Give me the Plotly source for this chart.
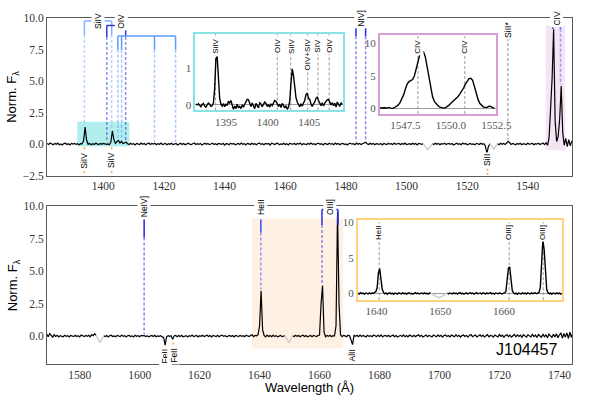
import plotly.graph_objects as go

# ------------------------------------------------------------------ data
object_name = "J104457"

# main panel spectra (regular wavelength grids, flux values)
top_wave_start, top_wave_step = 1381.5, 0.5
top_flux = [
    0.05, -0.03, 0.08, 0.02, -0.06, 0.04, -0.02, 0.07, -0.05, 0.01,
    -0.08, 0.03, 0.06, -0.04, 0.02, -0.07, 0.05, -0.01, 0.04, -0.03,
    0.02, -0.05, 0.03, 0.01, 0.25, 1.35, 0.30, -0.02, 0.04, -0.06,
    0.03, -0.04, 0.06, 0.01, -0.05, 0.04, -0.02, 0.05, 0.02, -0.03,
    0.01, -0.06, 0.15, 1.05, 0.35, 0.05, 0.18, 0.28, 0.08, 0.22,
    0.04, 0.12, 0.15, 0.02, -0.04, 0.06, -0.02, 0.03, -0.07, 0.05,
    0.01, -0.04, 0.07, -0.02, 0.04, -0.06, 0.02, 0.08, -0.03, 0.05,
    -0.01, 0.06, -0.05, 0.03, -0.02, 0.07, -0.04, 0.01, 0.05, -0.06,
    0.03, -0.02, 0.06, -0.05, 0.02, 0.04, -0.08, 0.01, 0.06, -0.03,
    0.04, -0.06, 0.02, 0.07, -0.01, -0.05, 0.03, 0.08, -0.04, 0.02,
    -0.03, 0.05, -0.07, 0.01, 0.06, -0.02, 0.04, -0.05, 0.03, 0.07,
    -0.04, 0.02, -0.06, 0.05, 0.01, -0.03, 0.06, -0.08, 0.03, 0.02,
    -0.05, 0.07, -0.01, 0.04, -0.06, 0.02, 0.05, -0.03, 0.08, -0.02,
    0.03, -0.07, 0.05, 0.01, -0.04, 0.06, -0.02, 0.03, -0.05, 0.04,
    0.07, -0.03, 0.02, -0.06, 0.05, -0.01, 0.04, -0.08, 0.06, 0.02,
    -0.04, 0.03, 0.07, -0.05, 0.01, -0.02, 0.06, -0.04, 0.03, -0.07,
    0.05, 0.02, -0.03, 0.06, -0.05, 0.04, -0.01, 0.07, -0.06, 0.03,
    0.01, -0.04, 0.05, -0.02, 0.08, -0.03, 0.02, -0.06, 0.04, 0.06,
    -0.02, 0.03, -0.07, 0.05, 0.01, -0.04, 0.06, -0.01, 0.03, -0.05,
    0.07, -0.02, 0.04, -0.06, 0.02, 0.05, -0.03, 0.01, -0.07, 0.04,
    0.06, -0.01, 0.03, -0.05, 0.08, -0.02, 0.04, -0.04, 0.02, 0.07,
    0.14, 0.03, -0.04, 0.06, -0.02, 0.05, -0.06, 0.03, 0.01, -0.03,
    0.05, -0.07, 0.04, 0.02, -0.05, 0.06, -0.01, 0.03, -0.04, 0.07,
    -0.03, 0.02, 0.05, -0.06, 0.04, -0.02, 0.07, -0.05, 0.01, 0.03,
    -0.04, 0.06, -0.02, 0.04, -0.07, 0.05, 0.02, -0.03, 0.01, None,
    None, None, None, None, 0.02, -0.04, 0.06, -0.02, 0.05, -0.06,
    0.03, -0.01, 0.07, -0.04, 0.02, 0.05, -0.03, 0.04, -0.07, 0.01,
    0.06, -0.02, 0.03, -0.05, 0.08, -0.01, 0.04, -0.06, 0.02, 0.05,
    -0.03, 0.01, -0.06, 0.04, 0.02, -0.04, 0.06, -0.02, 0.03, -0.15,
    -0.75, -0.20, 0.02, None, None, None, None, 0.03, -0.05, 0.06,
    -0.02, 0.04, -0.03, 0.08, 0.22, 0.10, -0.04, 0.05, 0.02, -0.06,
    0.04, -0.02, 0.06, -0.05, 0.03, 0.01, -0.04, 0.07, -0.03, 0.02,
    0.05, -0.06, 0.03, -0.01, 0.06, -0.04, 0.02, 0.08, -0.05, 0.10,
    -0.10, 0.50, 2.80, 5.20, 9.10, 1.80, 0.20, 0.60, 2.00, 4.60,
    0.90, -0.10, 0.45, -0.20, 0.35, -0.15, 0.25,
]
top_masked_wave = [[1505.5, 1507.0, 1508.5], [1527.5, 1528.75, 1530.0]]
top_masked_flux = [[0.01, -0.45, 0.02], [0.02, -0.40, 0.03]]

bottom_wave_start, bottom_wave_step = 1569.0, 0.5
bottom_flux = [
    0.15, -0.05, 0.20, 0.02, -0.08, 0.10, -0.03, 0.06, -0.06, 0.04,
    0.02, -0.05, 0.07, -0.02, 0.04, -0.07, 0.05, 0.01, -0.04, 0.06,
    -0.03, 0.03, -0.06, 0.08, 0.02, -0.04, 0.05, -0.02, 0.07, -0.05,
    0.12, 0.03, 0.18, 0.05, None, None, None, None, 0.02, -0.04,
    0.05, -0.06, 0.03, 0.07, -0.03, 0.02, -0.05, 0.06, 0.01, -0.04,
    0.08, -0.02, 0.04, -0.07, 0.03, 0.05, -0.03, 0.02, -0.06, 0.07,
    -0.01, 0.04, -0.05, 0.06, 0.02, 0.05, -0.04, 0.03, -0.06, 0.02,
    0.05, -0.03, 0.07, -0.05, 0.01, -0.02, 0.04, -0.06, -0.10, -0.70,
    -0.05, 0.04, -0.02, 0.03, -0.25, 0.02, 0.06, -0.04, 0.05, -0.03,
    0.07, -0.05, 0.02, 0.04, -0.06, 0.03, -0.02, 0.08, -0.04, 0.01,
    0.05, -0.07, 0.03, -0.01, 0.06, -0.04, 0.02, 0.07, -0.03, 0.04,
    -0.06, 0.05, 0.01, -0.03, 0.06, -0.05, 0.03, 0.08, -0.02, 0.04,
    -0.05, 0.02, 0.06, -0.03, 0.04, -0.07, 0.05, 0.01, -0.04, 0.06,
    -0.02, 0.04, -0.05, 0.07, 0.02, -0.03, 0.05, 0.10, -0.04, 0.06,
    0.02, 0.12, 0.80, 3.50, 0.50, 0.05, -0.06, 0.08, -0.03, 0.05,
    -0.05, 0.07, -0.02, 0.04, -0.06, 0.03, 0.06, -0.04, 0.02, 0.03,
    None, None, None, None, 0.02, -0.04, 0.06, -0.02, 0.05, -0.05,
    0.03, 0.07, -0.03, 0.04, -0.06, 0.02, 0.05, -0.04, 0.06, 0.01,
    -0.03, 0.05, 0.08, 2.50, 3.90, 0.30, -0.04, 0.05, -0.02, 0.06,
    -0.05, 0.04, 0.02, 0.80, 9.60, 2.50, 0.10, -0.04, 0.06, 0.02,
    -0.05, 0.07, 0.03, -0.30, -0.65, 0.05, -0.02, 0.06, -0.04, 0.08,
    -0.03, 0.05, 0.02, -0.06, 0.07, -0.02, 0.04, -0.05, 0.08, 0.01,
    -0.04, 0.06, -0.02, 0.09, -0.06, 0.03, 0.05, -0.03, 0.07, -0.05,
    0.02, 0.08, -0.04, 0.05, -0.07, 0.03, 0.06, -0.02, 0.09, -0.04,
    0.05, -0.06, 0.08, 0.02, -0.03, 0.07, -0.05, 0.04, 0.10, -0.02,
    0.06, -0.07, 0.03, 0.09, -0.04, 0.05, 0.01, -0.06, 0.08, 0.03,
    -0.05, 0.10, -0.02, 0.06, -0.08, 0.04, 0.09, -0.03, 0.05, -0.06,
    0.08, 0.02, -0.05, 0.11, -0.03, 0.06, -0.07, 0.04, 0.09, -0.02,
    0.05, -0.08, 0.07, 0.12, -0.04, 0.03, 0.08, -0.06, 0.05, 0.10,
    -0.03, 0.07, -0.07, 0.04, 0.11, -0.05, 0.06, 0.02, -0.08, 0.09,
    0.04, -0.06, 0.12, -0.02, 0.07, -0.09, 0.05, 0.10, -0.04, 0.08,
    -0.07, 0.06, 0.13, -0.05, 0.09, -0.03, 0.07, -0.10, 0.11, 0.02,
    -0.08, 0.10, 0.04, -0.06, 0.14, -0.04, 0.08, -0.11, 0.12, 0.03,
    -0.09, 0.15, -0.05, 0.10, -0.12, 0.16, 0.02, -0.10, 0.14, -0.06,
    0.18, -0.12, 0.10, 0.22, -0.15, 0.20, -0.08, 0.25, -0.18, 0.30,
    -0.10, 0.28,
]
bottom_masked_wave = [[1585.5, 1586.75, 1588.0], [1648.5, 1649.75, 1651.0]]
bottom_masked_flux = [[0.05, -0.50, 0.02], [0.03, -0.50, 0.02]]

# inset spectra
siiv_inset_start, siiv_inset_step = 1391.4, 0.15
siiv_inset_flux = [
    0.02, 0.00, 0.03, -0.02, -0.05, 0.01, 0.04, -0.03, -0.06, 0.00,
    0.05, 0.02, -0.04, -0.02, 0.05, 0.45, 1.25, 1.32, 0.70, 0.18,
    0.02, -0.03, 0.04, -0.05, 0.03, -0.02, 0.10, 0.05, 0.12, -0.05,
    -0.12, -0.03, -0.10, 0.02, -0.08, -0.04, -0.10, 0.00, -0.06, 0.02,
    0.10, 0.15, 0.14, 0.02, -0.04, 0.05, -0.03, -0.10, 0.04, -0.02,
    -0.08, 0.06, 0.03, -0.05, 0.02, 0.08, 0.04, -0.03, 0.00, -0.06,
    0.03, -0.02, 0.05, 0.12, 0.10, 0.03, -0.04, 0.02, -0.07, 0.04,
    -0.03, -0.08, -0.02, -0.12, -0.06, 0.10, 0.60, 0.98, 0.80, 0.45,
    0.20, 0.08, 0.03, -0.05, 0.02, -0.03, 0.05, 0.12, 0.28, 0.32,
    0.18, 0.15, 0.02, -0.04, 0.03, 0.08, 0.18, 0.22, 0.12, 0.03,
    -0.02, 0.06, -0.03, 0.05, 0.10, 0.14, 0.15, 0.08, 0.00, 0.06,
    -0.02, 0.05, -0.06, 0.08, 0.02, -0.04, 0.06, 0.01,
]
civ_inset_start, civ_inset_step = 1546.1, 0.1
civ_inset_flux = [
    0.00, 0.05, 0.10, 0.05, 0.00, 0.10, 0.00, -0.05, 0.05, 0.20,
    0.45, 0.80, 1.30, 2.00, 2.90, 3.70, 4.10, 4.30, 4.40, 5.00,
    6.20, 7.40, 8.30, 8.80, 8.70, 7.90, 6.40, 4.60, 2.90, 1.70,
    1.00, 0.60, 0.35, 0.15, 0.05, 0.00, 0.05, 0.20, 0.45, 0.75,
    1.00, 1.25, 1.50, 1.80, 2.20, 2.60, 3.10, 3.70, 4.20, 4.55,
    4.60, 4.30, 3.30, 2.20, 1.30, 0.70, 0.35, 0.15, 0.10, 0.10,
    0.30, 0.25, 0.05, 0.00,
]
heii_inset_start, heii_inset_step = 1637.1, 0.2
heii_inset_flux = [
    0.05, -0.08, 0.12, -0.03, 0.06, -0.10, 0.08, 0.02, -0.05, 0.10,
    -0.04, 0.06, 0.03, 0.15, 0.25, 0.80, 2.90, 3.50, 1.90, 0.60,
    0.15, -0.05, 0.08, -0.10, 0.04, 0.10, -0.06, 0.05, -0.12, 0.07,
    0.02, -0.08, 0.10, 0.03, -0.05, 0.08, -0.02, 0.06, -0.10, 0.04,
    0.09, -0.04, 0.03, -0.09, 0.07, 0.12, -0.03, 0.05, -0.07, 0.02,
    0.08, -0.05, 0.10, -0.02, 0.04, -0.08, 0.06, 0.03, None, None,
    None, None, None, None, None, None, None, None, None, None,
    0.04, -0.06, 0.08, 0.02, -0.05, 0.10, -0.03, 0.07, -0.08, 0.05,
    0.12, -0.04, 0.06, -0.10, 0.03, 0.09, -0.06, 0.04, 0.11, -0.02,
    0.07, -0.08, 0.05, 0.13, -0.04, 0.02, 0.08, -0.07, 0.10, 0.03,
    -0.05, 0.09, -0.03, 0.06, 0.12, -0.06, 0.04, -0.09, 0.08, 0.02,
    -0.04, 0.10, 0.05, -0.07, 0.06, 0.08, 0.30, 1.60, 3.60, 3.70,
    1.80, 0.40, 0.10, -0.06, 0.05, -0.10, 0.07, 0.03, -0.05, 0.09,
    -0.03, 0.06, -0.08, 0.11, 0.02, -0.06, 0.08, -0.02, 0.05, 0.10,
    -0.04, 0.07, 0.15, 0.90, 4.00, 7.50, 6.20, 2.50, 0.60, 0.10,
    -0.05, 0.08, -0.10, 0.06, 0.03, -0.07, 0.10, -0.02, 0.05, -0.08,
    0.04,
]
heii_inset_masked_wave = [1648.5, 1649.8, 1651.1]
heii_inset_masked_flux = [0.03, -0.60, 0.04]

# line identifications (rest wavelengths, Angstrom)
siiv_waves = [1393.76, 1402.77]
oiv_waves = [1401.16, 1407.38]
siv_waves = [1404.81, 1406.04, 1416.89, 1423.84]
niv_waves = [1483.32, 1486.50]
civ_waves = [1548.19, 1550.77]
siii_star_wave = [1533.43]
top_abs_names = ["SiIV", "SiIV", "SiII"]
top_abs_waves = [1393.76, 1402.77, 1526.71]
neiv_waves = [1601.50]
heii_waves = [1640.42]
oiii_waves = [1660.81, 1666.15]
bottom_abs_names = ["FeII", "FeII", "AlII"]
bottom_abs_waves = [1608.45, 1611.20, 1670.79]

inset1_names = ["SiIV", "OIV", "SiIV", "OIV+SIV", "SIV", "OIV"]
inset1_waves = [1393.76, 1401.16, 1402.77, 1404.81, 1406.04, 1407.38]
inset2_names = ["CIV", "CIV"]
inset2_waves = [1548.19, 1550.77]
inset3_names = ["HeII", "OIII]", "OIII]"]
inset3_waves = [1640.42, 1660.81, 1666.15]

# zoomed regions [x0, x1, y0, y1]
siiv_region = [1391.4, 1408.6, -0.2, 1.77]
civ_region = [1545.9, 1552.3, -0.5, 9.4]
heii_region = [1637.4, 1667.9, -0.96, 9.07]

# ------------------------------------------------------------------ style
W, H = 600, 400
ML, MR, MT, MB = 47, 12, 17, 36
PW, PH = W - ML - MR, H - MT - MB
SANS = "Liberation Sans"
SERIF = "Liberation Serif"


def px_x(x):
    return (x - ML) / PW


def px_y(y):
    return (H - MB - y) / PH


def grid(start, step, n):
    return [round(start + step * i, 4) for i in range(n)]


def local_ext(start, step, flux, w, half=0.75, mode="max"):
    vals = [f for i, f in enumerate(flux)
            if f is not None and abs(start + step * i - w) <= half]
    if not vals:
        return 0.0
    return max(vals) if mode == "max" else min(vals)


fig = go.Figure()
shapes = []
annotations = []


def add_spec(x, y, xa, ya, color="black", width=1.2):
    fig.add_trace(go.Scatter(x=x, y=y, mode="lines", xaxis=xa, yaxis=ya,
                             line=dict(color=color, width=width),
                             showlegend=False, hoverinfo="skip"))


def line_shape(xref, yref, x0, x1, y0, y1, color, width=1.5, dash="solid",
               opacity=1.0, layer="above"):
    shapes.append(dict(type="line", xref=xref, yref=yref, x0=x0, x1=x1,
                       y0=y0, y1=y1, opacity=opacity, layer=layer,
                       line=dict(color=color, width=width, dash=dash)))


def label(xref, yref, x, y, text, size=8.5, bg="white", yanchor="middle",
          yshift=0, color="black"):
    annotations.append(dict(xref=xref, yref=yref, x=x, y=y, text=text,
                            textangle=-90, showarrow=False, xanchor="center",
                            yanchor=yanchor, yshift=yshift, bgcolor=bg,
                            borderpad=1,
                            font=dict(family=SANS, size=size, color=color)))


def emission_marker(xref, yref, waves, top, color, start, step, flux,
                    solid_len=1.1, bracket=True):
    if bracket and len(waves) > 1:
        line_shape(xref, yref, min(waves), max(waves), top, top, color)
    for w in waves:
        end = max(local_ext(start, step, flux, w), 0.0) + 0.12
        line_shape(xref, yref, w, w, top, top - solid_len, color)
        line_shape(xref, yref, w, w, top - solid_len, end, color,
                   dash="3px,2px", opacity=0.55)


def absorption_marker(xref, yref, waves, names, ybot, ylab, start, step, flux):
    for w, n in zip(waves, names):
        y0 = min(local_ext(start, step, flux, w, 0.6, "min"), 0.0) - 0.25
        line_shape(xref, yref, w, w, y0, ybot, "#ffa54f", width=1.6,
                   dash="2px,2px")
        label(xref, yref, w, ylab, n)


# ------------------------------------------------------------------ main spectra
top_wave = grid(top_wave_start, top_wave_step, len(top_flux))
bottom_wave = grid(bottom_wave_start, bottom_wave_step, len(bottom_flux))

add_spec(top_wave, top_flux, "x", "y")
for mx, my in zip(top_masked_wave, top_masked_flux):
    add_spec(mx, my, "x", "y", color="#cfcfcf", width=1.5)
add_spec(bottom_wave, bottom_flux, "x2", "y2")
for mx, my in zip(bottom_masked_wave, bottom_masked_flux):
    add_spec(mx, my, "x2", "y2", color="#cfcfcf", width=1.5)

# shaded zoom regions
for reg, xr, yr, col in [(siiv_region, "x", "y", "rgba(0,200,200,0.30)"),
                         (civ_region, "x", "y", "rgba(200,120,200,0.20)"),
                         (heii_region, "x2", "y2", "rgba(250,180,110,0.20)")]:
    shapes.append(dict(type="rect", xref=xr, yref=yr, x0=reg[0], x1=reg[1],
                       y0=reg[2], y1=reg[3], fillcolor=col,
                       line=dict(width=0), layer="below"))

TS = (top_wave_start, top_wave_step, top_flux)
BS = (bottom_wave_start, bottom_wave_step, bottom_flux)

# top panel emission identifications
emission_marker("x", "y", siiv_waves, 9.76, "#80b4ff", *TS)
emission_marker("x", "y", oiv_waves, 9.40, "#3535d8", *TS, solid_len=0.9)
emission_marker("x", "y", siv_waves, 8.58, "#5d9cff", *TS)
emission_marker("x", "y", niv_waves, 9.85, "#2a2af0", *TS, solid_len=1.3)
emission_marker("x", "y", civ_waves, 9.85, "#4a5cff", *TS, solid_len=0.7)
label("x", "y", sum(siiv_waves) / 2, 9.76, "SiIV")
label("x", "y", sum(oiv_waves) / 2 + 1.6, 9.70, "OIV")
label("x", "y", sum(siv_waves) / 2 - 1.0, 8.50, "SIV")
label("x", "y", sum(niv_waves) / 2, 10.0, "NIV]")
label("x", "y", sum(civ_waves) / 2, 10.0, "CIV")
# SiII* (grey)
line_shape("x", "y", siii_star_wave[0], siii_star_wave[0], 9.2,
           local_ext(*TS[:2], top_flux, siii_star_wave[0]) + 0.12,
           "#8a8a8a", width=1, dash="3px,2px")
label("x", "y", siii_star_wave[0], 9.05, "SiII*")
absorption_marker("x", "y", top_abs_waves, top_abs_names, -2.5, -1.3, *TS)

# bottom panel identifications
emission_marker("x2", "y2", neiv_waves, 9.0, "#2020ee", *BS, solid_len=1.4)
emission_marker("x2", "y2", heii_waves, 9.0, "#3450ff", *BS, solid_len=1.0)
emission_marker("x2", "y2", oiii_waves, 9.77, "#2c2ce6", *BS, solid_len=1.2)
label("x2", "y2", neiv_waves[0], 9.95, "NeIV]")
label("x2", "y2", heii_waves[0], 9.95, "HeII")
label("x2", "y2", sum(oiii_waves) / 2, 9.95, "OIII]")
absorption_marker("x2", "y2", bottom_abs_waves, bottom_abs_names, -2.15, -1.5, *BS)

# ------------------------------------------------------------------ insets
insets = [
    dict(xa="x3", ya="y3", color="#86e4e4",
         xr=[1391.35, 1409.0], yr=[-0.15, 1.94],
         xd=[px_x(200), px_x(351.7)], yd=[px_y(109.7), px_y(32.7)],
         xt=[1395, 1400, 1405], xfmt="d", yt=[0, 1],
         wave=grid(siiv_inset_start, siiv_inset_step, len(siiv_inset_flux)),
         flux=siiv_inset_flux, names=inset1_names, waves=inset1_waves),
    dict(xa="x4", ya="y4", color="#d6a0d6",
         xr=[1546.1, 1552.5], yr=[-0.92, 11.3],
         xd=[px_x(390), px_x(510)], yd=[px_y(113.3), px_y(34)],
         xt=[1547.5, 1550.0, 1552.5], xfmt=".1f", yt=[0, 5, 10],
         wave=grid(civ_inset_start, civ_inset_step, len(civ_inset_flux)),
         flux=civ_inset_flux, names=inset2_names, waves=inset2_waves),
    dict(xa="x5", ya="y5", color="#ffd27e",
         xr=[1637.07, 1669.1], yr=[-0.94, 10.3],
         xd=[px_x(367.3), px_x(577.7)], yd=[px_y(300), px_y(220)],
         xt=[1640, 1650, 1660], xfmt="d", yt=[0, 5, 10],
         wave=grid(heii_inset_start, heii_inset_step, len(heii_inset_flux)),
         flux=heii_inset_flux, names=inset3_names, waves=inset3_waves),
]

layout_axes = {}
tickfont_main = dict(family=SERIF, size=11.5, color="#333333")
tickfont_inset = dict(family=SERIF, size=11, color="#555555")

for k, ins in enumerate(insets):
    n = k + 3
    for w, name in zip(ins["waves"], ins["names"]):
        line_shape(ins["xa"], ins["ya"], w, w, ins["yr"][0], ins["yr"][1],
                   "#9a9a9a", width=1, dash="3px,2px", layer="below")
        label(ins["xa"], ins["ya"], w, ins["yr"][1], name, size=8,
              yanchor="top", yshift=-3)
    add_spec(ins["wave"], ins["flux"], ins["xa"], ins["ya"], width=1.4)
    layout_axes["xaxis%d" % n] = dict(
        domain=ins["xd"], anchor="y%d" % n, range=ins["xr"],
        showline=True, linecolor=ins["color"], linewidth=2, mirror=True,
        showgrid=False, zeroline=False, ticks="", tickvals=ins["xt"],
        tickformat=ins["xfmt"], tickfont=tickfont_inset)
    layout_axes["yaxis%d" % n] = dict(
        domain=ins["yd"], anchor="x%d" % n, range=ins["yr"],
        showline=True, linecolor=ins["color"], linewidth=2, mirror=True,
        showgrid=False, zeroline=True, zerolinecolor="#9a9a9a",
        zerolinewidth=1, ticks="", tickvals=ins["yt"],
        tickfont=tickfont_inset)

add_spec(heii_inset_masked_wave, heii_inset_masked_flux, "x5", "y5",
         color="#cfcfcf", width=1.5)

# axis titles / object name
for dom in ([px_y(175), 1.0], [0.0, px_y(206)]):
    annotations.append(dict(xref="paper", yref="paper", x=px_x(12),
                            y=(dom[0] + dom[1]) / 2, text="Norm. F<sub>λ</sub>",
                            textangle=-90, showarrow=False, xanchor="center",
                            yanchor="middle",
                            font=dict(family=SANS, size=13, color="black")))
annotations.append(dict(xref="paper", yref="paper", x=0.5, y=px_y(388),
                        text="Wavelength (Å)", showarrow=False,
                        xanchor="center", yanchor="middle",
                        font=dict(family=SANS, size=13, color="black")))
annotations.append(dict(xref="paper", yref="paper", x=px_x(575), y=px_y(349),
                        text=object_name, showarrow=False, xanchor="right",
                        yanchor="middle",
                        font=dict(family=SANS, size=16, color="black")))

main_axis = dict(showline=True, linecolor="#5a5a5a", linewidth=1, mirror=True,
                 showgrid=False, zeroline=False, ticks="",
                 tickfont=tickfont_main)

fig.update_layout(
    width=W, height=H, autosize=False,
    margin=dict(l=ML, r=MR, t=MT, b=MB),
    paper_bgcolor="white", plot_bgcolor="white", showlegend=False,
    xaxis=dict(main_axis, domain=[0, 1], anchor="y",
               range=[1381.44, 1554.56], tickvals=list(range(1400, 1541, 20))),
    yaxis=dict(main_axis, domain=[px_y(175), 1.0], anchor="x",
               range=[-2.5, 10], tickvals=[-2.5, 0, 2.5, 5, 7.5, 10],
               ticktext=["−2.5", "0.0", "2.5", "5.0", "7.5", "10.0"]),
    xaxis2=dict(main_axis, domain=[0, 1], anchor="y2",
                range=[1569.1, 1744.2], tickvals=list(range(1580, 1741, 20))),
    yaxis2=dict(main_axis, domain=[0.0, px_y(206)], anchor="x2",
                range=[-2.15, 10], tickvals=[0, 2.5, 5, 7.5, 10],
                ticktext=["0.0", "2.5", "5.0", "7.5", "10.0"]),
    shapes=shapes, annotations=annotations,
    **layout_axes,
)

fig.write_html("out.html",
               config={"displayModeBar": False, "responsive": False},
               default_width="600px", default_height="400px",
               post_script="document.body.style.margin='0';"
                           "document.body.style.overflow='hidden';")
